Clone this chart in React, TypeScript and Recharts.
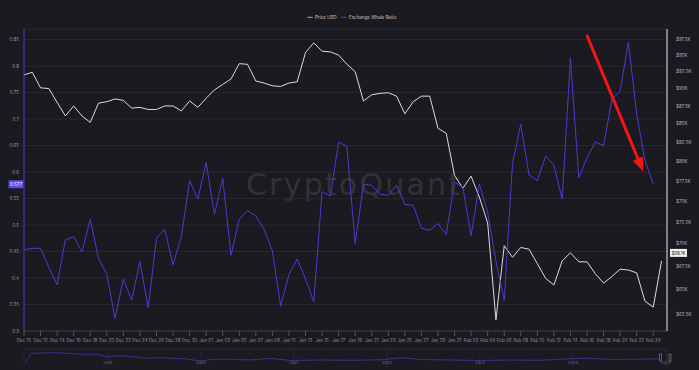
import React from 'react';
import { LineChart, Line, XAxis, YAxis, CartesianGrid, ReferenceLine } from 'recharts';

const dates = [
  'Dec 10', 'Dec 11', 'Dec 12', 'Dec 13', 'Dec 14', 'Dec 15', 'Dec 16', 'Dec 17', 'Dec 18', 'Dec 19',
  'Dec 20', 'Dec 21', 'Dec 22', 'Dec 23', 'Dec 24', 'Dec 25', 'Dec 26', 'Dec 27', 'Dec 28', 'Dec 29',
  'Dec 30', 'Dec 31', 'Jan 01', 'Jan 02', 'Jan 03', 'Jan 04', 'Jan 05', 'Jan 06', 'Jan 07', 'Jan 08',
  'Jan 09', 'Jan 10', 'Jan 11', 'Jan 12', 'Jan 13', 'Jan 14', 'Jan 15', 'Jan 16', 'Jan 17', 'Jan 18',
  'Jan 19', 'Jan 20', 'Jan 21', 'Jan 22', 'Jan 23', 'Jan 24', 'Jan 25', 'Jan 26', 'Jan 27', 'Jan 28',
  'Jan 29', 'Jan 30', 'Jan 31', 'Feb 01', 'Feb 02', 'Feb 03', 'Feb 04', 'Feb 05', 'Feb 06', 'Feb 07',
  'Feb 08', 'Feb 09', 'Feb 10', 'Feb 11', 'Feb 12', 'Feb 13', 'Feb 14', 'Feb 15', 'Feb 16', 'Feb 17',
  'Feb 18', 'Feb 19', 'Feb 20', 'Feb 21', 'Feb 22', 'Feb 23', 'Feb 24', 'Feb 25',
];

const priceUsd = [
  92000, 92400, 90100, 90000, 88000, 86100, 87500, 86100, 85200, 87900,
  88100, 88500, 88300, 87200, 87300, 87000, 87000, 87500, 87500, 86800,
  88200, 87300, 88600, 89800, 90600, 91400, 93700, 93600, 91100, 90800,
  90400, 90300, 90800, 91000, 95400, 96900, 95600, 95500, 95000, 93600,
  92500, 88200, 89100, 89300, 89400, 88900, 86400, 88100, 88900, 88900,
  84400, 83700, 78200, 76600, 78100, 75500, 72400, 61900, 69800, 68500,
  69600, 69400, 67800, 66200, 65500, 68100, 69000, 68000, 68000, 66700,
  65700, 66400, 67200, 67100, 66800, 63800, 63200, 68100,
];

const whaleRatio: (number | null)[] = [
  0.453, 0.456, 0.456, 0.420, 0.387, 0.472, 0.478, 0.449, 0.511, 0.437,
  0.407, 0.324, 0.398, 0.358, 0.431, 0.344, 0.475, 0.492, 0.425, 0.478,
  0.584, 0.549, 0.618, 0.520, 0.588, 0.443, 0.511, 0.527, 0.517, 0.492,
  0.451, 0.347, 0.407, 0.436, 0.398, 0.355, 0.563, 0.555, 0.657, 0.648,
  0.465, 0.577, 0.575, 0.558, 0.556, 0.575, 0.539, 0.537, 0.494, 0.490,
  0.503, 0.482, 0.581, 0.571, 0.480, 0.577, 0.524, 0.432, 0.358, 0.616,
  0.690, 0.594, 0.584, 0.630, 0.613, 0.549, 0.816, 0.589, 0.627, 0.657,
  0.650, 0.737, 0.753, 0.845, 0.709, 0.622, 0.577, null,
];

const xTicks = [0, 2, 4, 6, 8, 10, 12, 14, 16, 18, 20, 22, 24, 26, 28, 30, 32, 34, 36, 38,
  40, 42, 44, 46, 48, 50, 52, 54, 56, 58, 60, 62, 64, 66, 68, 70, 72, 74, 76];
const leftTicks = [0.3, 0.35, 0.4, 0.45, 0.5, 0.55, 0.6, 0.65, 0.7, 0.75, 0.8, 0.85];
const rightTicks = [62500, 65000, 67500, 70000, 72500, 75000, 77500, 80000, 82500, 85000,
  87500, 90000, 92500, 95000, 97500];

// overview navigator (full history of the ratio)
const navYears = [2018.11, 2018.135, 2018.157, 2018.17, 2018.2, 2018.38, 2018.56, 2018.67, 2018.77,
  2018.88, 2018.99, 2019.1, 2019.27, 2019.42, 2019.56, 2019.7, 2019.85, 2019.99, 2020.13, 2020.35,
  2020.53, 2020.75, 2020.96, 2021.28, 2021.61, 2021.93, 2022.16, 2022.36, 2022.68, 2023.0, 2023.33,
  2023.65, 2024.02, 2024.19, 2024.4, 2024.62, 2024.94];
const navRatio = [0.444, 0.572, 0.677, 0.806, 0.833, 0.856, 0.833, 0.806, 0.767,
  0.806, 0.701, 0.739, 0.701, 0.638, 0.662, 0.638, 0.611, 0.533, 0.599, 0.599,
  0.572, 0.638, 0.553, 0.572, 0.561, 0.58, 0.662, 0.592, 0.572, 0.553, 0.572,
  0.561, 0.631, 0.642, 0.592, 0.599, 0.619];
const yearTicks = [2019, 2020, 2021, 2022, 2023, 2024, 2025];

const arrowFrom = { x: 67.96, y: 0.859 };
const arrowTo = { x: 74.79, y: 0.601 };

const data = dates.map((d, k) => ({ i: k, date: d, price: priceUsd[k], ratio: whaleRatio[k] }));
const navData = navYears.map((y, k) => ({ year: y, ratio: navRatio[k] }));

const lastRatio = whaleRatio[76] as number;
const lastPrice = priceUsd[priceUsd.length - 1];

const BG = '#1b1a20';
const BLUE = '#4b3bd3';
const WHITE = '#dcdcdc';
const FONT = 'Inter, "Noto Sans", sans-serif';

const ArrowShape = (p: any) => {
  const { x1, y1, x2, y2 } = p;
  if ([x1, y1, x2, y2].some((v) => typeof v !== 'number' || isNaN(v))) return null;
  const dx = x2 - x1;
  const dy = y2 - y1;
  const len = Math.sqrt(dx * dx + dy * dy);
  const ux = dx / len;
  const uy = dy / len;
  const headLen = 14;
  const headW = 5.5;
  const bx = x2 - ux * headLen;
  const by = y2 - uy * headLen;
  const pts = `${x2},${y2} ${bx - uy * headW},${by + ux * headW} ${bx + uy * headW},${by - ux * headW}`;
  return (
    <g>
      <line x1={x1} y1={y1} x2={bx + ux * 2} y2={by + uy * 2} stroke="#f01616" strokeWidth={3} />
      <polygon points={pts} fill="#f01616" />
    </g>
  );
};

const LeftBadge = (p: any) => {
  const vb = p.viewBox || {};
  const x = vb.x;
  const y = vb.y;
  return (
    <g>
      <rect x={x - 15.5} y={y - 4} width={15} height={8} fill="#5b48ef" />
      <text x={x - 8} y={y + 1.6} textAnchor="middle" fontSize={4.5} fill="#ffffff" fontFamily={FONT}>
        {lastRatio.toFixed(3)}
      </text>
    </g>
  );
};

const RightBadge = (p: any) => {
  const vb = p.viewBox || {};
  const x = vb.x + vb.width;
  const y = vb.y;
  return (
    <g>
      <rect x={x + 3} y={y - 12} width={17} height={8} fill="#f2f2f2" />
      <text x={x + 11.5} y={y - 6.4} textAnchor="middle" fontSize={4.5} fill="#222" fontFamily={FONT}>
        {'$' + (lastPrice / 1000).toFixed(1) + 'K'}
      </text>
    </g>
  );
};

const NavTick = (p: any) => (
  <text x={p.x} y={p.y - 3} textAnchor="middle" fontSize={4} fill="#6f6f78" fontFamily={FONT}>
    {p.payload.value}
  </text>
);

export default function App() {
  return (
    <div
      style={{
        position: 'absolute',
        left: 0,
        top: 0,
        width: 699,
        height: 370,
        background: BG,
        overflow: 'hidden',
        fontFamily: FONT,
      }}
    >
      <svg width={699} height={370} style={{ position: 'absolute', left: 0, top: 0 }}>
        <text x={246} y={195} fontSize={30} letterSpacing={2.2} fill="#323138" fontFamily='"DejaVu Sans", sans-serif'>
          CryptoQuant
        </text>
      </svg>

      <div style={{ position: 'absolute', left: 0, top: 0 }}>
        <LineChart width={699} height={350} data={data} margin={{ top: 29, right: 0, bottom: 0, left: 0 }}>
          <CartesianGrid vertical={false} stroke="#29282f" yAxisId="left" />
          <XAxis
            dataKey="i"
            type="number"
            domain={[0, 77.66]}
            ticks={xTicks}
            interval={0}
            height={19}
            tickFormatter={(v: number) => dates[v]}
            axisLine={{ stroke: '#3a3a42' }}
            tickLine={{ stroke: '#55555d' }}
            tickSize={5}
            tickMargin={3}
            tick={{ fontSize: 4.5, fill: '#8e8e98', fontFamily: FONT }}
          />
          <YAxis
            yAxisId="left"
            orientation="left"
            width={24}
            domain={[0.3, 0.87]}
            ticks={leftTicks}
            interval={0}
            tickFormatter={(v: number) => String(+v.toFixed(2))}
            axisLine={{ stroke: BLUE }}
            tickLine={false}
            tickSize={0}
            tickMargin={5}
            tick={{ fontSize: 4.5, fill: '#9a9aa3', fontFamily: FONT }}
          />
          <YAxis
            yAxisId="right"
            orientation="right"
            width={32}
            scale="log"
            domain={[60800, 99100]}
            allowDataOverflow
            ticks={rightTicks}
            interval={0}
            tickFormatter={(v: number) => '$' + v / 1000 + 'K'}
            axisLine={{ stroke: '#e8e8e8' }}
            tickLine={false}
            tickSize={0}
            tickMargin={9}
            tick={{ fontSize: 4.5, fill: '#b4b4bc', fontFamily: FONT }}
          />
          <Line
            yAxisId="right"
            dataKey="price"
            stroke={WHITE}
            strokeWidth={1}
            dot={false}
            activeDot={false}
            isAnimationActive={false}
          />
          <Line
            yAxisId="left"
            dataKey="ratio"
            stroke={BLUE}
            strokeWidth={1}
            dot={false}
            activeDot={false}
            isAnimationActive={false}
          />
          <ReferenceLine yAxisId="left" y={lastRatio} stroke="none" label={<LeftBadge />} />
          <ReferenceLine yAxisId="right" y={lastPrice} stroke="none" label={<RightBadge />} />
          <ReferenceLine
            yAxisId="left"
            segment={[arrowFrom, arrowTo]}
            stroke="#f01616"
            shape={<ArrowShape />}
          />
        </LineChart>
      </div>

      <div style={{ position: 'absolute', left: 0, top: 347 }}>
        <LineChart width={699} height={21} data={navData} margin={{ top: 2, right: 32, bottom: 0, left: 24 }}>
          <CartesianGrid horizontal={false} stroke="#26252c" />
          <XAxis
            dataKey="year"
            type="number"
            domain={[2018.1, 2025.01]}
            ticks={yearTicks}
            interval={0}
            height={1}
            axisLine={false}
            tickLine={false}
            tickSize={0}
            tickMargin={0}
            tick={<NavTick />}
          />
          <YAxis hide domain={[0.3, 1.0]} />
          <ReferenceLine y={1.0} stroke="#2e2d35" />
          <Line
            dataKey="ratio"
            stroke="#4234b0"
            strokeWidth={0.8}
            dot={false}
            activeDot={false}
            isAnimationActive={false}
          />
        </LineChart>
      </div>

      <svg width={699} height={370} style={{ position: 'absolute', left: 0, top: 0, pointerEvents: 'none' }}>
        <line x1={307.3} y1={17.3} x2={312.7} y2={17.3} stroke="#a9a9b0" strokeWidth={1} />
        <text x={315} y={18.9} fontSize={4.5} fill="#c9c9d1" fontFamily={FONT}>Price USD</text>
        <line x1={340.7} y1={17.3} x2={346.7} y2={17.3} stroke={BLUE} strokeWidth={1} />
        <text x={349} y={18.9} fontSize={4.5} fill="#c9c9d1" fontFamily={FONT}>Exchange Whale Ratio</text>
        <rect x={659.5} y={354} width={2} height={7} fill="none" stroke="#8a8a92" strokeWidth={0.6} />
        <rect x={669} y={354} width={2} height={7} fill="none" stroke="#8a8a92" strokeWidth={0.6} />
      </svg>
    </div>
  );
}
